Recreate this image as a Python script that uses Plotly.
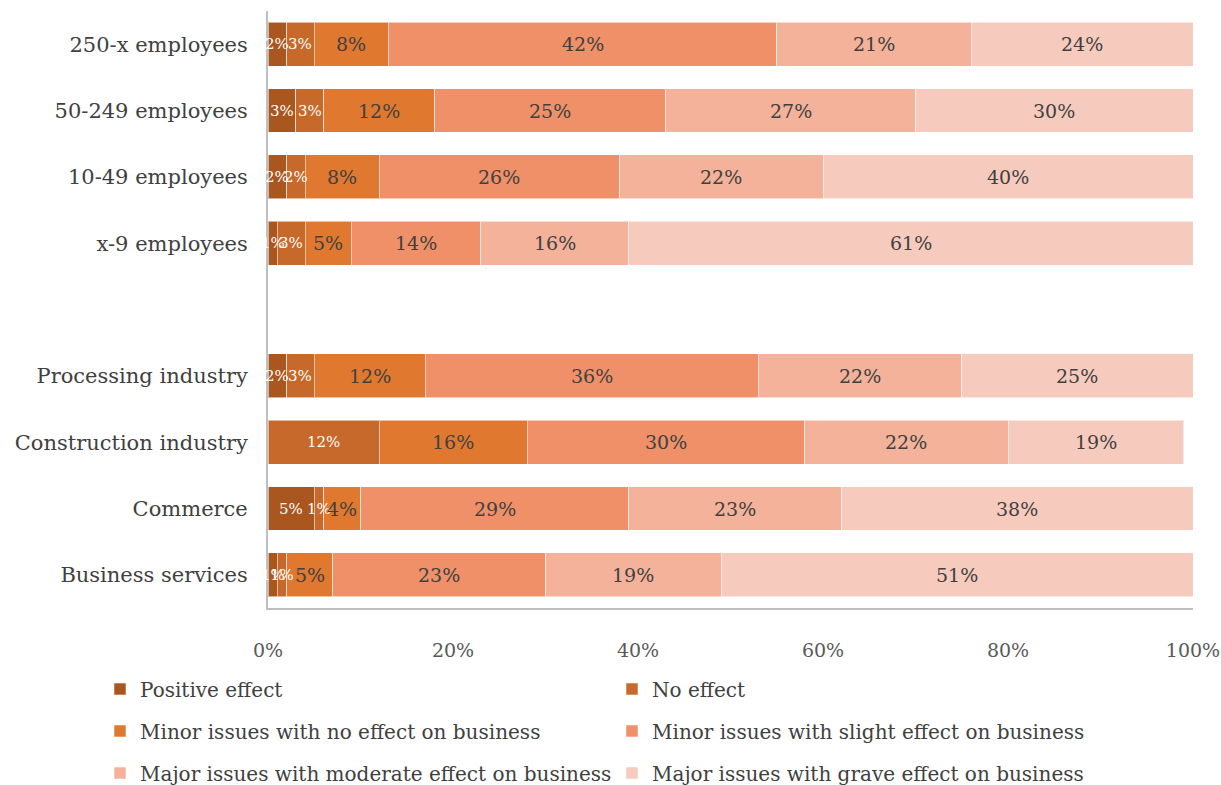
import plotly.graph_objects as go

# Row labels, top to bottom; None marks the empty spacer row between the two groups
rows = ["250-x employees", "50-249 employees", "10-49 employees", "x-9 employees",
        None,
        "Processing industry", "Construction industry", "Commerce", "Business services"]

series = [
    "Positive effect",
    "No effect",
    "Minor issues with no effect on business",
    "Minor issues with slight effect on business",
    "Major issues with moderate effect on business",
    "Major issues with grave effect on business",
]

# Shares (%) per series, one value per non-empty row
positive_effect = [2, 3, 2, 1, 2, 0, 5, 1]
no_effect = [3, 3, 2, 3, 3, 12, 1, 1]
minor_no_effect = [8, 12, 8, 5, 12, 16, 4, 5]
minor_slight_effect = [42, 25, 26, 14, 36, 30, 29, 23]
major_moderate_effect = [21, 27, 22, 16, 22, 22, 23, 19]
major_grave_effect = [24, 30, 40, 61, 25, 19, 38, 51]

values = [positive_effect, no_effect, minor_no_effect,
          minor_slight_effect, major_moderate_effect, major_grave_effect]

colors = ["#A9561F", "#C6692A", "#E07830", "#EF9068", "#F3B299", "#F6CBBE"]
label_colors = ["white", "white", "#404040", "#404040", "#404040", "#404040"]
label_sizes = [15, 15, 19, 19, 19, 19]

FONT = "DejaVu Serif"
W, H = 1221, 785

# Legend laid out as a 2-column grid: one legend box per entry (left px, centre y px)
legend_slots = [(100, 689), (612, 689), (100, 731), (612, 731), (100, 773), (612, 773)]
legend_ids = ["legend"] + [f"legend{i}" for i in range(2, 7)]

# Row positions on the y axis (spacer row keeps its slot empty)
row_pos = [i for i, r in enumerate(rows) if r is not None]
row_names = [r for r in rows if r is not None]

fig = go.Figure()
annotations = []
running = [0] * len(row_pos)
for name, vals, col, tcol, tsize, lg in zip(series, values, colors, label_colors,
                                           label_sizes, legend_ids):
    fig.add_trace(go.Bar(
        name=name,
        orientation="h",
        x=vals,
        y=row_pos,
        marker=dict(color=col, line=dict(color="rgba(255,255,255,0.55)", width=1)),
        hoverinfo="skip",
        legend=lg,
        showlegend=True,
    ))
    # value labels centred on each segment, kept at full size even on thin segments
    for i, (yp, v) in enumerate(zip(row_pos, vals)):
        if v > 0:
            annotations.append(dict(
                x=running[i] + v / 2, y=yp, xref="x", yref="y",
                text=f"{v}%", showarrow=False,
                font=dict(family=FONT, size=tsize, color=tcol),
            ))
        running[i] += v

legend_common = dict(
    orientation="h",
    xref="container", yref="container",
    xanchor="left", yanchor="middle",
    font=dict(family=FONT, size=20, color="#404040"),
    bgcolor="rgba(0,0,0,0)",
    itemclick=False, itemdoubleclick=False,
)
legends = {
    lid: dict(legend_common, x=px / W, y=1 - py / H)
    for lid, (px, py) in zip(legend_ids, legend_slots)
}

fig.update_layout(
    width=W, height=H,
    margin=dict(l=268, r=28, t=11, b=177, autoexpand=False),
    paper_bgcolor="white", plot_bgcolor="white",
    barmode="stack",
    bargap=0.34,
    showlegend=True,
    font=dict(family=FONT, color="#404040"),
    annotations=annotations,
    xaxis=dict(
        range=[0, 100],
        tickvals=[0, 20, 40, 60, 80, 100],
        ticktext=["0%", "20%", "40%", "60%", "80%", "100%"],
        showgrid=False, zeroline=False,
        showline=True, linecolor="#BFBFBF", linewidth=2,
        ticks="", ticklabelstandoff=24,
        tickfont=dict(family=FONT, size=19, color="#595959"),
    ),
    yaxis=dict(
        range=[len(rows) - 0.5, -0.5],
        tickvals=row_pos, ticktext=row_names,
        showgrid=False, zeroline=False,
        showline=True, linecolor="#BFBFBF", linewidth=2,
        ticks="", ticklabelstandoff=14,
        tickfont=dict(family=FONT, size=21, color="#404040"),
    ),
    **legends,
)

fig.write_html("out.html")
